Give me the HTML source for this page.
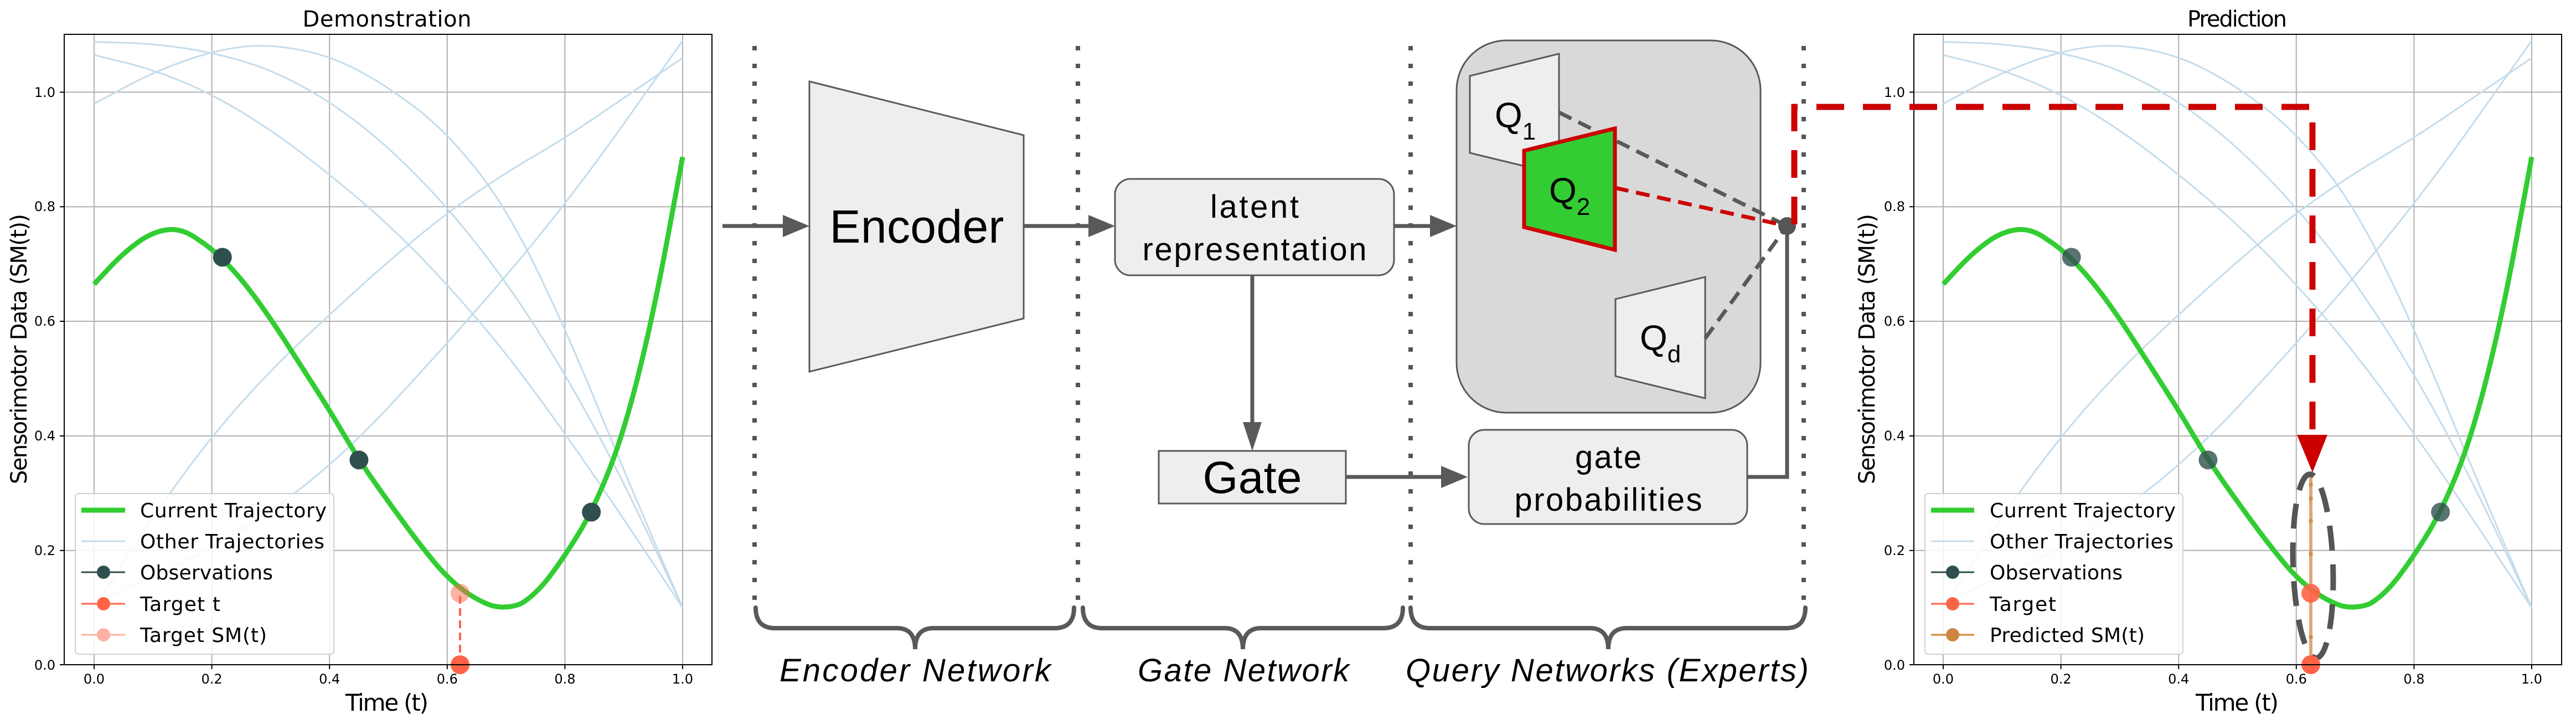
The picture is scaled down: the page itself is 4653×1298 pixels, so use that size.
<!DOCTYPE html>
<html><head><meta charset="utf-8"><style>
html,body{margin:0;padding:0;background:#fff;}
svg{display:block;}
.dv{font-family:"DejaVu Sans","Liberation Sans",sans-serif;}
.ls{font-family:"Liberation Sans",sans-serif;}
</style></head><body>
<svg width="4653" height="1298" viewBox="0 0 4653 1298" xmlns="http://www.w3.org/2000/svg">
<defs>
<g id="curves">
  <g fill="none" stroke="#c4dcec" stroke-width="3">
    <path vector-effect="non-scaling-stroke" d="M0,1088 L50,1086.5 Q100,1085 150,1077.5 Q200,1070 250,1055 Q300,1040 350,1012.5 Q400,985 450,945 Q500,905 550,852.5 Q600,800 650,735 Q700,670 750,590 Q800,510 850,415 Q900,320 950,210 L1000,100"/>
    <path vector-effect="non-scaling-stroke" d="M0,980 L50,1007.5 Q100,1035 150,1053.5 Q200,1072 245,1078.5 Q290,1085 345,1075 Q400,1065 450,1037.5 Q500,1010 550,970 Q600,930 650,865 Q700,800 750,695 Q800,590 850,465 Q900,340 950,220 L1000,100"/>
    <path vector-effect="non-scaling-stroke" d="M0,1065 L50,1052.5 Q100,1040 150,1018.5 Q200,997 250,966 Q300,935 350,896 Q400,857 450,813.5 Q500,770 550,717.5 Q600,665 650,605 Q700,545 750,475 Q800,405 850,330 Q900,255 950,177.5 L1000,100"/>
    <path vector-effect="non-scaling-stroke" d="M0,100 L50,180 Q100,260 150,330 Q200,400 250,457.5 Q300,515 350,563.5 Q400,612 450,658.5 Q500,705 550,747.5 Q600,790 650,825 Q700,860 750,890 Q800,920 850,955 Q900,990 950,1025 L1000,1060"/>
    <path vector-effect="non-scaling-stroke" d="M0,110 L100,155 Q200,200 300,270 Q400,340 500,450 Q600,560 700,680 Q800,800 900,945 L1000,1090"/>
  </g>
  <path vector-effect="non-scaling-stroke" fill="none" stroke="#32cd32" stroke-width="9" stroke-linejoin="round" d="M0,665 L25,692.5 Q50,720 75,738.5 Q100,757 125,760 Q150,763 175,744 Q200,728 225,701.5 Q250,675 275,640 Q300,605 325,565 Q350,525 375,485 Q400,445 425,401.5 Q450,358 475,321.5 Q500,285 525,250 Q550,215 575,183.5 Q600,152 625,132.5 Q650,113 675,104 Q700,97 725,107 Q750,122 775,156 Q800,190 825,232.5 Q850,275 875,340 Q900,405 925,507.5 Q950,610 975,748.5 L1000,887"/>
</g>
</defs>

<!-- LEFT PLOT -->
<g>
  <g stroke="#b0b0b0" stroke-width="2">
    <line x1="170" y1="62" x2="170" y2="1200"/><line x1="382.6" y1="62" x2="382.6" y2="1200"/><line x1="595.2" y1="62" x2="595.2" y2="1200"/><line x1="807.8" y1="62" x2="807.8" y2="1200"/><line x1="1020.4" y1="62" x2="1020.4" y2="1200"/><line x1="1233" y1="62" x2="1233" y2="1200"/>
    <line x1="116" y1="993.8" x2="1286" y2="993.8"/><line x1="116" y1="787" x2="1286" y2="787"/><line x1="116" y1="580" x2="1286" y2="580"/><line x1="116" y1="373.2" x2="1286" y2="373.2"/><line x1="116" y1="166.4" x2="1286" y2="166.4"/>
  </g>
  <g transform="translate(170,1200.6) scale(1.063,-1.034)"><use href="#curves"/></g>
  <line x1="831" y1="1200" x2="831" y2="1071" stroke="#ff6347" stroke-width="4" stroke-dasharray="14,8"/>
  <circle cx="831" cy="1071" r="17" fill="#ff6347" fill-opacity="0.5"/>
  <circle cx="831" cy="1200" r="17" fill="#ff6347"/>
  <g fill="#2f4f4f"><circle cx="401.7" cy="464.4" r="17"/><circle cx="648.4" cy="830.4" r="17"/><circle cx="1068.2" cy="924.5" r="17"/></g>
  <rect x="116" y="62" width="1170" height="1138" fill="none" stroke="#000" stroke-width="2"/>
  <rect x="136" y="891" width="467" height="290" rx="6" fill="#fff" fill-opacity="0.85" stroke="#d0d0d0" stroke-width="2"/>
  <line x1="147" y1="921" x2="226" y2="921" stroke="#32cd32" stroke-width="9"/>
  <line x1="147" y1="977" x2="226" y2="977" stroke="#c4dcec" stroke-width="3"/>
  <line x1="147" y1="1033" x2="226" y2="1033" stroke="#2f4f4f" stroke-width="3"/><circle cx="187" cy="1033" r="12" fill="#2f4f4f"/>
  <line x1="147" y1="1090" x2="226" y2="1090" stroke="#ff6347" stroke-width="3"/><circle cx="187" cy="1090" r="12" fill="#ff6347"/>
  <line x1="147" y1="1146" x2="226" y2="1146" stroke="#ffb1a3" stroke-width="3"/><circle cx="187" cy="1146" r="12" fill="#ffb1a3"/>
  <g class="dv" font-size="36" fill="#000">
    <text x="253" y="934" textLength="337">Current Trajectory</text>
    <text x="253" y="990" textLength="333">Other Trajectories</text>
    <text x="253" y="1046" textLength="240">Observations</text>
    <text x="253" y="1103" textLength="145">Target t</text>
    <text x="253" y="1159" textLength="229">Target SM(t)</text>
  </g>
  <g class="dv" font-size="24" fill="#000" text-anchor="middle">
    <text x="170" y="1234">0.0</text><text x="382.6" y="1234">0.2</text><text x="595.2" y="1234">0.4</text><text x="807.8" y="1234">0.6</text><text x="1020.4" y="1234">0.8</text><text x="1233" y="1234">1.0</text>
  </g>
  <g class="dv" font-size="24" fill="#000" text-anchor="end">
    <text x="100" y="1209">0.0</text><text x="100" y="1002">0.2</text><text x="100" y="795">0.4</text><text x="100" y="588">0.6</text><text x="100" y="381">0.8</text><text x="100" y="175">1.0</text>
  </g>
  <g stroke="#000" stroke-width="2">
    <line x1="170" y1="1200" x2="170" y2="1208"/><line x1="382.6" y1="1200" x2="382.6" y2="1208"/><line x1="595.2" y1="1200" x2="595.2" y2="1208"/><line x1="807.8" y1="1200" x2="807.8" y2="1208"/><line x1="1020.4" y1="1200" x2="1020.4" y2="1208"/><line x1="1233" y1="1200" x2="1233" y2="1208"/>
    <line x1="108" y1="1200" x2="116" y2="1200"/><line x1="108" y1="993.8" x2="116" y2="993.8"/><line x1="108" y1="787" x2="116" y2="787"/><line x1="108" y1="580" x2="116" y2="580"/><line x1="108" y1="373.2" x2="116" y2="373.2"/><line x1="108" y1="166.4" x2="116" y2="166.4"/>
  </g>
  <text class="dv" x="699" y="48" font-size="40" text-anchor="middle" textLength="305">Demonstration</text>
  <text class="dv" x="699" y="1283" font-size="42" text-anchor="middle" textLength="150">Time (t)</text>
  <text class="dv" font-size="40" text-anchor="middle" transform="translate(48,630) rotate(-90)" textLength="488">Sensorimotor Data (SM(t))</text>
</g>

<!-- RIGHT PLOT -->
<g>
  <g stroke="#b0b0b0" stroke-width="2">
    <line x1="3510" y1="62" x2="3510" y2="1200"/><line x1="3722.6" y1="62" x2="3722.6" y2="1200"/><line x1="3935.2" y1="62" x2="3935.2" y2="1200"/><line x1="4147.8" y1="62" x2="4147.8" y2="1200"/><line x1="4360.4" y1="62" x2="4360.4" y2="1200"/><line x1="4573" y1="62" x2="4573" y2="1200"/>
    <line x1="3457" y1="993.8" x2="4627" y2="993.8"/><line x1="3457" y1="787" x2="4627" y2="787"/><line x1="3457" y1="580" x2="4627" y2="580"/><line x1="3457" y1="373.2" x2="4627" y2="373.2"/><line x1="3457" y1="166.4" x2="4627" y2="166.4"/>
  </g>
  <g transform="translate(3510,1200.6) scale(1.063,-1.034)"><use href="#curves"/></g>
  <g fill="#2f4f4f" fill-opacity="0.8"><circle cx="3741.7" cy="464.4" r="17"/><circle cx="3988.4" cy="830.4" r="17"/><circle cx="4408.2" cy="924.5" r="17"/></g>
  <g fill="#cd853f" fill-opacity="0.7">
    <rect x="4171" y="858" width="6" height="330" rx="3"/>
    <circle cx="4174" cy="875" r="4"/><circle cx="4174" cy="900" r="4"/><circle cx="4174" cy="940" r="4"/><circle cx="4174" cy="1000" r="4"/><circle cx="4174" cy="1150" r="4"/>
  </g>
  <ellipse cx="4178" cy="1022" rx="36" ry="166" fill="none" stroke="#555" stroke-width="10" stroke-dasharray="45,25" transform="rotate(-2 4178 1022)"/>
  <circle cx="4174" cy="1071" r="17" fill="#ff6347" fill-opacity="0.9"/>
  <circle cx="4174" cy="1200" r="17" fill="#ff6347"/>
  <rect x="3457" y="62" width="1170" height="1138" fill="none" stroke="#000" stroke-width="2"/>
  <rect x="3477" y="891" width="466" height="290" rx="6" fill="#fff" fill-opacity="0.85" stroke="#d0d0d0" stroke-width="2"/>
  <line x1="3488" y1="921" x2="3566" y2="921" stroke="#32cd32" stroke-width="9"/>
  <line x1="3488" y1="977" x2="3566" y2="977" stroke="#c4dcec" stroke-width="3"/>
  <line x1="3488" y1="1033" x2="3566" y2="1033" stroke="#2f4f4f" stroke-width="3"/><circle cx="3527" cy="1033" r="12" fill="#2f4f4f"/>
  <line x1="3488" y1="1090" x2="3566" y2="1090" stroke="#ff6347" stroke-width="3"/><circle cx="3527" cy="1090" r="12" fill="#ff6347"/>
  <line x1="3488" y1="1146" x2="3566" y2="1146" stroke="#cd853f" stroke-width="3"/><circle cx="3527" cy="1146" r="12" fill="#cd853f"/>
  <g class="dv" font-size="36" fill="#000">
    <text x="3594" y="934" textLength="336">Current Trajectory</text>
    <text x="3594" y="990" textLength="332">Other Trajectories</text>
    <text x="3594" y="1046" textLength="240">Observations</text>
    <text x="3594" y="1103" textLength="120">Target</text>
    <text x="3594" y="1159" textLength="280">Predicted SM(t)</text>
  </g>
  <g class="dv" font-size="24" fill="#000" text-anchor="middle">
    <text x="3510" y="1234">0.0</text><text x="3722.6" y="1234">0.2</text><text x="3935.2" y="1234">0.4</text><text x="4147.8" y="1234">0.6</text><text x="4360.4" y="1234">0.8</text><text x="4573" y="1234">1.0</text>
  </g>
  <g class="dv" font-size="24" fill="#000" text-anchor="end">
    <text x="3441" y="1209">0.0</text><text x="3441" y="1002">0.2</text><text x="3441" y="795">0.4</text><text x="3441" y="588">0.6</text><text x="3441" y="381">0.8</text><text x="3441" y="175">1.0</text>
  </g>
  <g stroke="#000" stroke-width="2">
    <line x1="3510" y1="1200" x2="3510" y2="1208"/><line x1="3722.6" y1="1200" x2="3722.6" y2="1208"/><line x1="3935.2" y1="1200" x2="3935.2" y2="1208"/><line x1="4147.8" y1="1200" x2="4147.8" y2="1208"/><line x1="4360.4" y1="1200" x2="4360.4" y2="1208"/><line x1="4573" y1="1200" x2="4573" y2="1208"/>
    <line x1="3449" y1="1200" x2="3457" y2="1200"/><line x1="3449" y1="993.8" x2="3457" y2="993.8"/><line x1="3449" y1="787" x2="3457" y2="787"/><line x1="3449" y1="580" x2="3457" y2="580"/><line x1="3449" y1="373.2" x2="3457" y2="373.2"/><line x1="3449" y1="166.4" x2="3457" y2="166.4"/>
  </g>
  <text class="dv" x="4041" y="48" font-size="40" text-anchor="middle" textLength="180">Prediction</text>
  <text class="dv" x="4041" y="1283" font-size="42" text-anchor="middle" textLength="150">Time (t)</text>
  <text class="dv" font-size="40" text-anchor="middle" transform="translate(3386,630) rotate(-90)" textLength="488">Sensorimotor Data (SM(t))</text>
</g>

<!-- MIDDLE DIAGRAM -->
<g>
  <g stroke="#555" stroke-width="8" stroke-dasharray="8,24">
    <line x1="1363" y1="83" x2="1363" y2="1093"/>
    <line x1="1947" y1="83" x2="1947" y2="1093"/>
    <line x1="2548" y1="83" x2="2548" y2="1093"/>
    <line x1="3258" y1="83" x2="3258" y2="1093"/>
  </g>
  <g fill="none" stroke="#595959" stroke-width="8" stroke-linecap="round">
    <path d="M1365,1097 Q1365,1134 1400,1134 L1620,1134 Q1653,1134 1653,1172 Q1653,1134 1686,1134 L1905,1134 Q1940,1134 1940,1097"/>
    <path d="M1956,1097 Q1956,1134 1991,1134 L2212,1134 Q2245,1134 2245,1172 Q2245,1134 2278,1134 L2499,1134 Q2534,1134 2534,1097"/>
    <path d="M2548,1097 Q2548,1134 2583,1134 L2872,1134 Q2905,1134 2905,1172 Q2905,1134 2938,1134 L3226,1134 Q3261,1134 3261,1097"/>
  </g>
  <g class="ls" font-style="italic" font-size="58" fill="#000" text-anchor="middle">
    <text x="1653" y="1230" textLength="490">Encoder Network</text>
    <text x="2246" y="1230" textLength="382">Gate Network</text>
    <text x="2903" y="1230" textLength="728">Query Networks (Experts)</text>
  </g>

  <g stroke="#595959" stroke-width="7" fill="none">
    <line x1="1305" y1="408" x2="1420" y2="408"/>
    <line x1="1849" y1="408" x2="1972" y2="408"/>
    <line x1="2518" y1="408" x2="2588" y2="408"/>
    <line x1="2262" y1="497" x2="2262" y2="770"/>
    <line x1="2431" y1="861" x2="2608" y2="861"/>
    <polyline points="3156,861 3228,861 3228,408"/>
  </g>
  <g fill="#595959">
    <polygon points="1414,388 1462,408 1414,428"/>
    <polygon points="1966,388 2014,408 1966,428"/>
    <polygon points="2583,388 2631,408 2583,428"/>
    <polygon points="2245,762 2262,814 2279,762"/>
    <polygon points="2603,841 2651,861 2603,881"/>
  </g>

  <polygon points="1462,147 1849,244 1849,575 1462,671" fill="#eeeeee" stroke="#595959" stroke-width="3"/>
  <text class="ls" x="1656" y="438" font-size="84" text-anchor="middle" textLength="315">Encoder</text>

  <rect x="2014" y="323" width="504" height="174" rx="28" fill="#eeeeee" stroke="#595959" stroke-width="3"/>
  <text class="ls" x="2266" y="393" font-size="58" text-anchor="middle" textLength="160">latent</text>
  <text class="ls" x="2266" y="470" font-size="58" text-anchor="middle" textLength="405">representation</text>

  <rect x="2093" y="814" width="338" height="95" fill="#eeeeee" stroke="#595959" stroke-width="3"/>
  <text class="ls" x="2262" y="890" font-size="82" text-anchor="middle" textLength="179">Gate</text>

  <rect x="2653" y="776" width="503" height="170" rx="28" fill="#eeeeee" stroke="#595959" stroke-width="3"/>
  <text class="ls" x="2905" y="845" font-size="58" text-anchor="middle" textLength="120">gate</text>
  <text class="ls" x="2905" y="922" font-size="58" text-anchor="middle" textLength="339">probabilities</text>

  <rect x="2631" y="73" width="549" height="672" rx="90" fill="#d9d9d9" stroke="#595959" stroke-width="3"/>
  <polygon points="2655,137 2816,97 2816,315 2655,276" fill="#eeeeee" stroke="#595959" stroke-width="3"/>
  <text class="ls" x="2700" y="230" font-size="64">Q<tspan font-size="44" dy="22">1</tspan></text>
  <line x1="2816" y1="203" x2="3228" y2="408" stroke="#595959" stroke-width="7" stroke-dasharray="25,14"/>
  <polygon points="2753,272 2917,232 2917,451 2753,410" fill="#33cc33" stroke="#cc0000" stroke-width="7"/>
  <text class="ls" x="2798" y="366" font-size="64">Q<tspan font-size="44" dy="22">2</tspan></text>
  <line x1="2917" y1="339" x2="3228" y2="408" stroke="#cc0000" stroke-width="7" stroke-dasharray="25,14"/>
  <polygon points="2918,540 3080,500 3080,719 2918,679" fill="#eeeeee" stroke="#595959" stroke-width="3"/>
  <text class="ls" x="2962" y="632" font-size="64">Q<tspan font-size="44" dy="22">d</tspan></text>
  <line x1="3080" y1="611" x2="3228" y2="408" stroke="#595959" stroke-width="7" stroke-dasharray="25,14"/>
  <circle cx="3228" cy="408" r="16" fill="#555"/>

  <polyline points="3241,405 3241,193 4177,193 4177,790" fill="none" stroke="#cc0000" stroke-width="11" stroke-dasharray="50,34"/>
  <polygon points="4149,785 4204,785 4177,853" fill="#cc0000"/>
</g>
</svg>
</body></html>
